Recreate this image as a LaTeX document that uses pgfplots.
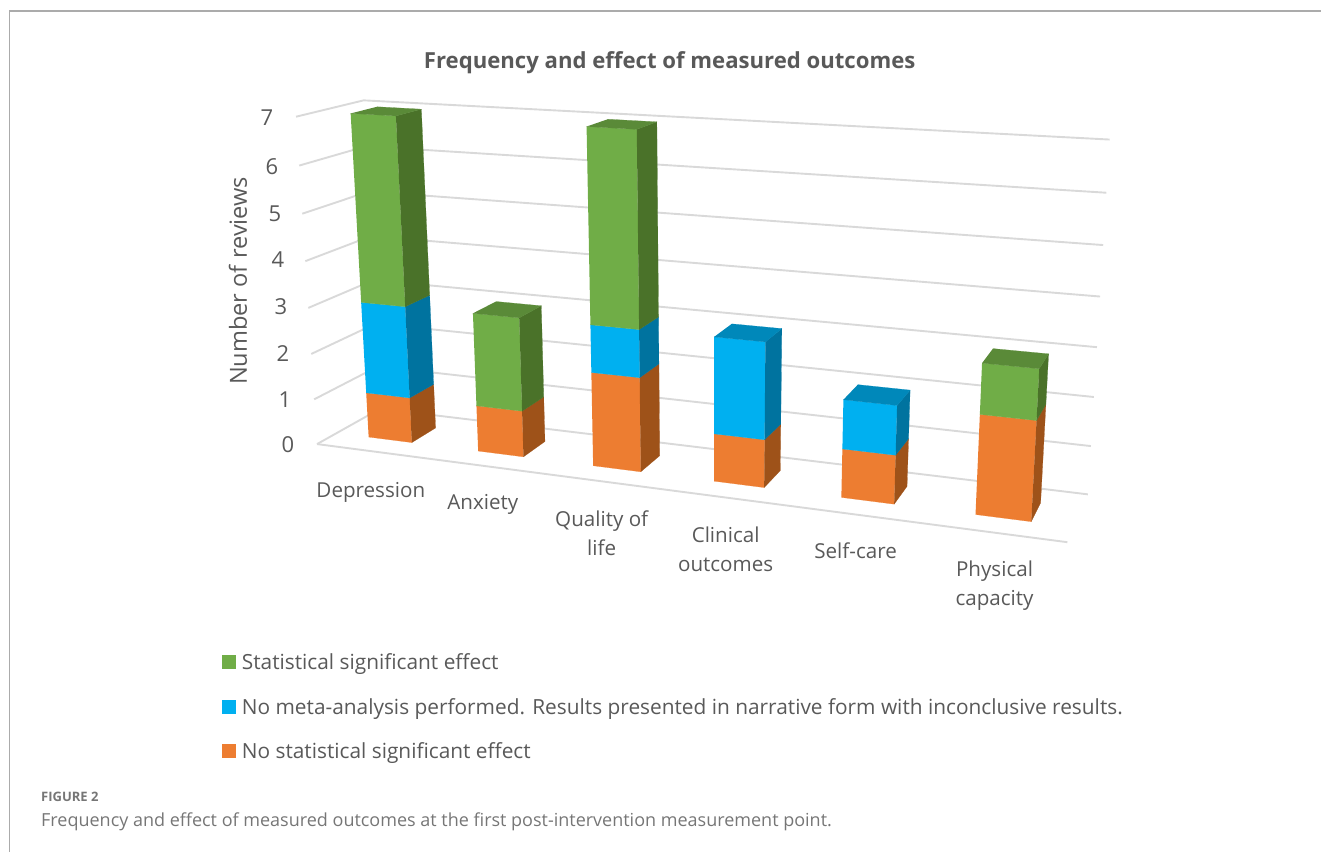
\documentclass[border=0pt]{standalone}
\usepackage{fontspec}
\setmainfont{Open Sans}
\usepackage{pgfplots}
\pgfplotsset{compat=1.18}

% Series and text colours
\definecolor{orangeFront}{HTML}{ED7D31}
\definecolor{orangeSide}{HTML}{9E5219}
\definecolor{blueFront}{HTML}{00B0F0}
\definecolor{blueSide}{HTML}{00739F}
\definecolor{blueTop}{HTML}{0088BA}
\definecolor{greenFront}{HTML}{70AD47}
\definecolor{greenSide}{HTML}{4A7229}
\definecolor{greenTop}{HTML}{5A8A38}
\definecolor{gridGrey}{HTML}{D9D9D9}
\definecolor{inkGrey}{HTML}{595959}
\definecolor{frameGrey}{HTML}{ABABAB}
\definecolor{captionGrey}{HTML}{767676}

% Perspective projection: X runs along the categories (0..6),
% Y is the depth of the chart box (0..1), Z is the number of reviews.
\newcommand\projW{(1-0.02415*\thisrow{X}+0.0644*\thisrow{Y}-0.00719*\thisrow{Z})}
\newcommand\projU{(317.2+99.33*\thisrow{X}+87.65*\thisrow{Y}-5.126*\thisrow{Z})/\projW}
\newcommand\projV{(444.3+3.26*\thisrow{X}-9.08*\thisrow{Y}-47.63*\thisrow{Z})/\projW}
\pgfplotsset{
  persp/.style={/pgfplots/table/x expr=\projU,/pgfplots/table/y expr=\projV,/pgfplots/table/row sep=\\},
  face/.style={persp,fill=#1,draw=#1,line width=0.2pt,forget plot},
  grid line/.style={persp,draw=gridGrey,line width=1.9pt,forget plot},
}

% One stacked segment: category index, lower value, upper value, front and side colour
\newcommand\segment[5]{%
  \addplot[face=#4] table {X Y Z\\ #1.3 0.3 #2\\ #1.7 0.3 #2\\ #1.7 0.3 #3\\ #1.3 0.3 #3\\};
  \addplot[face=#5] table {X Y Z\\ #1.7 0.3 #2\\ #1.7 0.7 #2\\ #1.7 0.7 #3\\ #1.7 0.3 #3\\};
}
% Top face of a stack: category index, total, colour
\newcommand\barcap[3]{%
  \addplot[face=#3] table {X Y Z\\ #1.3 0.3 #2\\ #1.7 0.3 #2\\ #1.7 0.7 #2\\ #1.3 0.7 #2\\};
}
\newcommand\sized[1]{\fontsize{#1}{#1}\selectfont}

\begin{document}
\begin{tikzpicture}
\begin{axis}[
  name=main,
  hide axis, scale only axis, clip=false,
  width=1322pt, height=852pt,
  xmin=0, xmax=1322, ymin=0, ymax=852, y dir=reverse,
  legend cell align=left,
  legend image code/.code={\fill[#1] (0pt,-7pt) rectangle (14pt,7pt);},
  legend style={
    at={(axis cs:222,652)}, anchor=north west,
    draw=none, fill=none, inner sep=0pt, outer sep=0pt,
    row sep=23pt, text=inkGrey,
    font=\sized{20.85},
    nodes={inner xsep=6pt, inner ysep=2pt},
  },
]
% Value lines on the left wall and the back wall
\pgfplotsinvokeforeach{0,...,7}{
  \addplot[grid line] table {X Y Z\\ 0 0 #1\\ 0 1 #1\\ 6 1 #1\\};
}
% Front edge of the floor
\addplot[grid line] table {X Y Z\\ 0 0 0\\ 6 0 0\\};

% Depression
\segment{0}{0}{1}{orangeFront}{orangeSide}
\segment{0}{1}{3}{blueFront}{blueSide}
\segment{0}{3}{7}{greenFront}{greenSide}
\barcap{0}{7}{greenTop}
% Anxiety
\segment{1}{0}{1}{orangeFront}{orangeSide}
\segment{1}{1}{3}{greenFront}{greenSide}
\barcap{1}{3}{greenTop}
% Quality of life
\segment{2}{0}{2}{orangeFront}{orangeSide}
\segment{2}{2}{3}{blueFront}{blueSide}
\segment{2}{3}{7}{greenFront}{greenSide}
\barcap{2}{7}{greenTop}
% Clinical outcomes
\segment{3}{0}{1}{orangeFront}{orangeSide}
\segment{3}{1}{3}{blueFront}{blueSide}
\barcap{3}{3}{blueTop}
% Self-care
\segment{4}{0}{1}{orangeFront}{orangeSide}
\segment{4}{1}{2}{blueFront}{blueSide}
\barcap{4}{2}{blueTop}
% Physical capacity
\segment{5}{0}{2}{orangeFront}{orangeSide}
\segment{5}{2}{3}{greenFront}{greenSide}
\barcap{5}{3}{greenTop}

\addlegendimage{fill=greenFront,draw=none}
\addlegendentry{Statistical significant effect}
\addlegendimage{fill=blueFront,draw=none}
\addlegendentry{No meta-analysis performed. Results presented in narrative form with inconclusive results.}
\addlegendimage{fill=orangeFront,draw=none}
\addlegendentry{No statistical significant effect}

% Panel frame
\draw[frameGrey,line width=1.3pt] (axis cs:9.5,852) -- (axis cs:9.5,11) -- (axis cs:1322,11);

% Title and axis title
\node[text=inkGrey,font=\bfseries\sized{22.15}] at (axis cs:670,63) {Frequency and effect of measured outcomes};
\node[text=inkGrey,font=\sized{23.6},rotate=90] at (axis cs:238,281) {Number of reviews};

% Value labels along the left wall
\begin{scope}[every node/.style={text=inkGrey,font=\sized{22}}]
\node at (axis cs:267,118) {7};
\node at (axis cs:272,167) {6};
\node at (axis cs:275,214) {5};
\node at (axis cs:278,260) {4};
\node at (axis cs:281,307) {3};
\node at (axis cs:283,354) {2};
\node at (axis cs:285,400) {1};
\node at (axis cs:288,445) {0};
\end{scope}

% Category labels
\begin{scope}[every node/.style={text=inkGrey,font=\sized{20.6},align=center}]
\node at (axis cs:371,493) {Depression};
\node at (axis cs:483,505) {Anxiety};
\node at (axis cs:602,521) {Quality of};
\node at (axis cs:602,548) {life};
\node at (axis cs:726,535) {Clinical};
\node at (axis cs:726,565) {outcomes};
\node at (axis cs:856,551) {Self-care};
\node at (axis cs:995,571) {Physical};
\node at (axis cs:995,601) {capacity};
\end{scope}

% Caption
\node[anchor=west,text=captionGrey,font=\bfseries\sized{13},inner sep=0pt] at (axis cs:41,797) {FIGURE 2};
\node[anchor=west,text=captionGrey,font=\sized{18},inner sep=0pt] at (axis cs:41,822) {Frequency and effect of measured outcomes at the first post-intervention measurement point.};
\end{axis}
% The page covers the whole plotting area
\path (main.south west) rectangle (main.north east);
\end{tikzpicture}
\end{document}
